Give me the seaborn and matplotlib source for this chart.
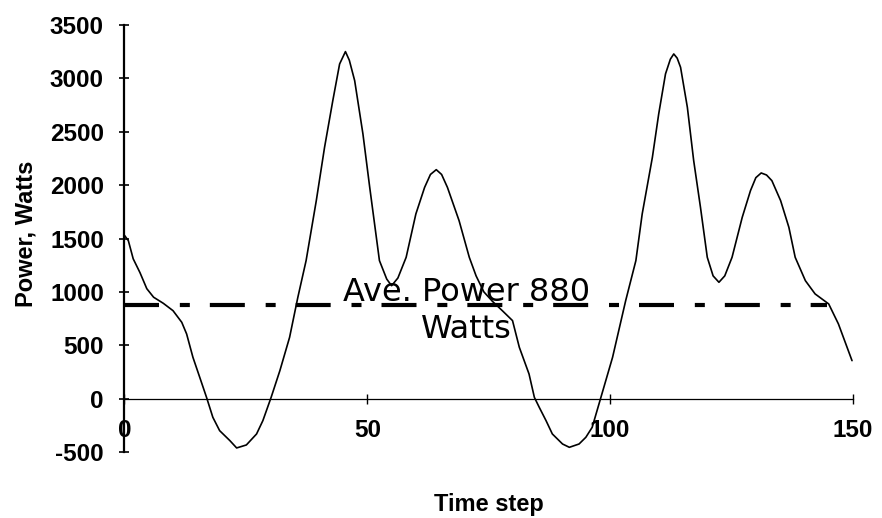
import matplotlib
matplotlib.use("Agg")
import matplotlib.pyplot as plt
import seaborn as sns
import pandas as pd

# Instantaneous power over one run, sampled along the time-step axis
time_steps = [0, 0.8, 1.8, 3.2, 4.6, 6.0, 8.0, 10.0, 11.8, 12.8, 14.1, 15.5, 16.9,
              18.2, 19.6, 21.7, 23.1, 25.1, 27.2, 28.5, 30.2, 32.0, 34.0, 35.7,
              37.4, 39.5, 41.2, 42.9, 44.3, 45.5, 46.3, 47.4, 49.1, 50.5, 52.5,
              54.0, 55.0, 56.3, 58.0, 60.0, 61.8, 63.0, 64.2, 65.3, 66.5, 68.9,
              71.0, 72.4, 74.0, 75.8, 77.8, 79.9, 81.3, 83.3, 84.4, 85.4, 86.8,
              88.1, 90.2, 91.6, 93.6, 95.0, 96.3, 98.1, 100.5, 103.2, 105.3,
              106.6, 108.7, 110.0, 111.4, 112.4, 113.1, 113.8, 114.5, 115.9,
              117.2, 118.6, 120.0, 121.2, 122.4, 123.6, 125.1, 127.2, 128.9,
              130.0, 131.1, 132.2, 133.3, 135.1, 136.8, 138.1, 140.2, 142.2,
              145.0, 147.0, 149.8]
power_watts = [1530, 1480, 1310, 1180, 1030, 950, 893, 824, 715, 606, 387, 200, 12,
               -175, -300, -393, -462, -434, -331, -206, 12, 262, 574, 949,
               1293, 1855, 2354, 2792, 3135, 3251, 3170, 2979, 2480, 1979, 1293,
               1120, 1058, 1130, 1324, 1730, 1979, 2100, 2145, 2100, 1979, 1667,
               1324, 1150, 1000, 910, 824, 731, 481, 231, 12, -81, -206,
               -331, -425, -456, -425, -362, -269, 12, 387, 918, 1293,
               1730, 2261, 2667, 3042, 3180, 3229, 3190, 3104, 2729,
               2230, 1792, 1324, 1150, 1090, 1150, 1324, 1699, 1949,
               2070, 2114, 2095, 2042, 1855, 1605, 1324, 1105, 981,
               887, 700, 356]

# Average power reference line
avg_power = 880
avg_span = [0, 144.6]

x_ticks = [0, 50, 100, 150]
y_ticks = [-500, 0, 500, 1000, 1500, 2000, 2500, 3000, 3500]
annotation = "Ave. Power 880\nWatts"

sns.set_theme(style="white")
plt.rcParams["font.family"] = ["Liberation Sans", "DejaVu Sans"]
plt.rcParams["text.color"] = "black"

fig = plt.figure(figsize=(8.82, 5.18), dpi=100)
ax = fig.add_axes([0.1411, 0.1274, 0.8260, 0.8243])

df = pd.DataFrame({"t": time_steps, "p": power_watts})
sns.lineplot(data=df, x="t", y="p", ax=ax, color="black", lw=1.2,
             estimator=None, sort=False, solid_joinstyle="round",
             solid_capstyle="round")

avg_df = pd.DataFrame({"t": avg_span, "p": [avg_power] * len(avg_span)})
sns.lineplot(data=avg_df, x="t", y="p", ax=ax, color="black", lw=3,
             linestyle=(0, (8.4, 5.0, 2.4, 4.8)), estimator=None)

ax.text(70.4, 825, annotation, ha="center", va="center", fontsize=23,
        family=["DejaVu Sans"], linespacing=1.25, color="black")

ax.set_xlim(0, 150)
ax.set_ylim(-500, 3500)
ax.set_xticks(x_ticks)
ax.set_yticks(y_ticks)
ax.set_xticklabels([str(v) for v in x_ticks])
ax.set_yticklabels([str(v) for v in y_ticks])

for side in ("top", "right"):
    ax.spines[side].set_visible(False)
ax.spines["bottom"].set_position(("data", 0))
ax.spines["bottom"].set_linewidth(0.9)
ax.spines["left"].set_linewidth(1.6)
for s in ("bottom", "left"):
    ax.spines[s].set_color("black")

ax.tick_params(axis="y", direction="inout", length=7.5, width=1.2, pad=11,
               labelsize=17.5, colors="black", left=True)
ax.tick_params(axis="x", direction="inout", length=7.5, width=1.0, pad=11,
               labelsize=17.5, colors="black", bottom=True)
for lbl in ax.get_xticklabels() + ax.get_yticklabels():
    lbl.set_fontweight("bold")

ax.set_xlabel("Time step", fontsize=17, fontweight="bold", color="black")
ax.set_ylabel("Power, Watts", fontsize=17, fontweight="bold", color="black")
ax.xaxis.set_label_coords(0.5, -0.097)
ax.yaxis.set_label_coords(-0.12, 0.51)
ax.grid(False)

fig.savefig("out.png", dpi=100, facecolor="white")
